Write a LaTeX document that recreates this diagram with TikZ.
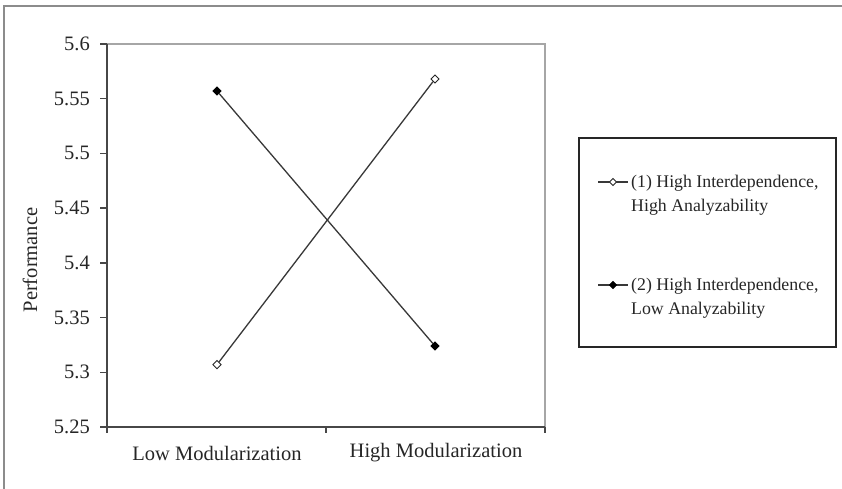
\documentclass[tikz,border=0pt]{standalone}
\usepackage{fontspec}
\setmainfont{Liberation Serif}
\usetikzlibrary{shapes.geometric}
\begin{document}
\begin{tikzpicture}[x=1bp,y=-1bp,
  axisline/.style={draw=black!72, line width=1.7bp},
  outerframe/.style={draw=black!45, line width=1.6bp},
  plotframe/.style={draw=black!35, line width=1.4bp},
  series/.style={draw=black!78, line width=1.3bp},
  opendia/.style={diamond, draw=black!85, fill=white, line width=0.9bp, inner sep=0pt, minimum size=8.5bp},
  filldia/.style={diamond, draw=black, fill=black, line width=0.9bp, inner sep=0pt, minimum size=8.5bp},
  ticklab/.style={anchor=east, inner sep=0pt, font=\fontsize{20.5bp}{24bp}\selectfont, text=black!85},
  catlab/.style={anchor=center, inner sep=0pt, font=\fontsize{20.5bp}{24bp}\selectfont, text=black!85},
  legtext/.style={anchor=base west, inner sep=0pt, align=left, font=\fontsize{17.8bp}{24bp}\selectfont, text=black!85},
  legbox/.style={draw=black!85, line width=1.3bp, minimum width=257bp, minimum height=209bp, inner sep=0pt}
]
\useasboundingbox (0,0) rectangle (842,489);
\fill[white] (0,0) rectangle (842,489);
% outer frame (top and left only)
\coordinate (ofb) at (4,489);
\coordinate (oftl) at (4,6);
\coordinate (oftr) at (842,6);
\draw[outerframe] (ofb) -- (oftl) -- (oftr);
% plot area
\coordinate (pTL) at (107,44);
\coordinate (pTR) at (545,44);
\coordinate (pBL) at (107,427);
\coordinate (pBR) at (545,427);
\draw[plotframe] (pTL) -- (pTR) -- (pBR);
\draw[axisline] (pTL) -- (pBL) -- (pBR);
% y ticks and labels
\foreach \i/\lab in {0/5.6,1/5.55,2/5.5,3/5.45,4/5.4,5/5.35,6/5.3,7/5.25}{
  \coordinate (ytA\i) at (100,44+\i*54.714);
  \coordinate (ytB\i) at (107,44+\i*54.714);
  \draw[axisline, line width=1.4bp] (ytA\i) -- (ytB\i);
  \node[ticklab] (yl\i) at (90,44+\i*54.714) {\lab};
}
% x ticks
\foreach \i/\x in {0/107,1/326,2/545}{
  \coordinate (xtA\i) at (\x,427);
  \coordinate (xtB\i) at (\x,433);
  \draw[axisline, line width=1.4bp] (xtA\i) -- (xtB\i);
}
\node[catlab] (xlow) at (217,453) {Low Modularization};
\node[catlab] (xhigh) at (436,453) {High Modularization};
\node[catlab, rotate=90] (ylab) at (30,260) {Performance};
% data series
\node[opendia] (lo1) at (217,364.6) {};
\node[opendia] (hi1) at (435,79) {};
\node[filldia] (lo2) at (217,91) {};
\node[filldia] (hi2) at (435,346) {};
\draw[series] (lo1) -- (hi1);
\draw[series] (lo2) -- (hi2);
% legend
\node[legbox] (legend) at (707.5,242.5) {};
\coordinate (lgA1) at (598,182);
\coordinate (lgB1) at (628,182);
\draw[series, line width=1.6bp] (lgA1) -- (lgB1);
\node[opendia, minimum size=7.5bp] (lgm1) at (613,182) {};
\node[legtext] (lgt1) at (631,212) {(1) High Interdependence,\\High Analyzability};
\coordinate (lgA2) at (598,285);
\coordinate (lgB2) at (628,285);
\draw[series, line width=1.6bp] (lgA2) -- (lgB2);
\node[filldia, minimum size=7.5bp] (lgm2) at (613,285) {};
\node[legtext] (lgt2) at (631,315) {(2) High Interdependence,\\Low Analyzability};
\end{tikzpicture}
\end{document}
